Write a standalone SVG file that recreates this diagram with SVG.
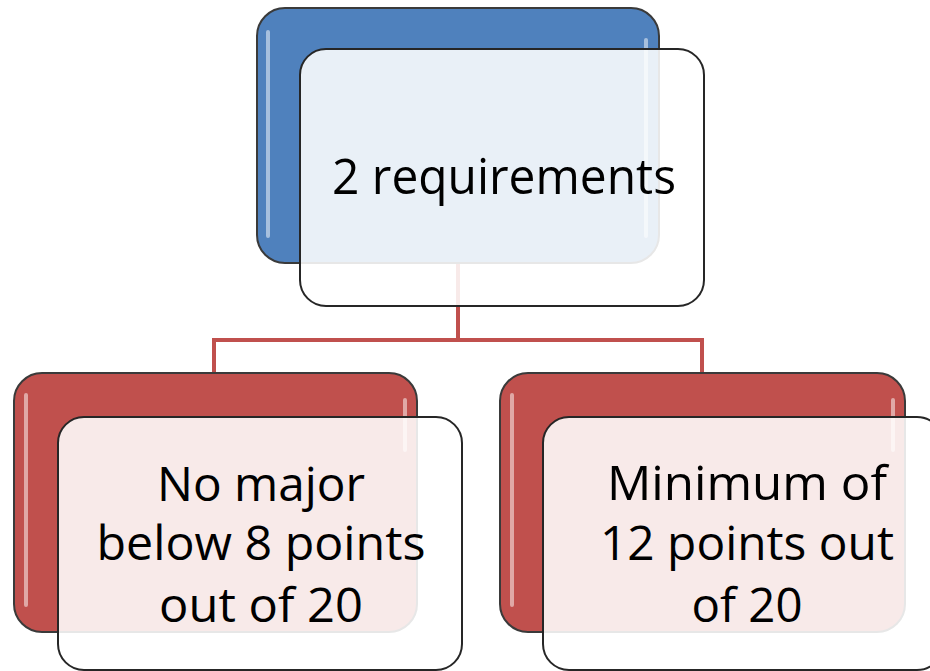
<svg xmlns="http://www.w3.org/2000/svg" width="930" height="671" viewBox="0 0 930 671">
<defs>
<style>
.back{stroke:#3a3a3a;stroke-width:2}
.blue{fill:#4F81BD}
.red{fill:#C0504D}
.front{fill:#ffffff;fill-opacity:0.88;stroke:#262626;stroke-width:2}
.gloss{stroke:#ffffff;stroke-opacity:0.5;stroke-width:4;stroke-linecap:round;fill:none}
.conn{stroke:#C0504D;stroke-width:4;fill:none}
.t{font-family:"Open Sans","Noto Sans","Liberation Sans",sans-serif;font-size:47px;fill:#000;text-anchor:middle}
.tt{font-family:"Open Sans","Noto Sans","Liberation Sans",sans-serif;font-size:50px;fill:#000;text-anchor:middle}
</style>
</defs>
<rect width="930" height="671" fill="#ffffff"/>
<g id="connectors">
<path class="conn" d="M458 263 V340 M214 340 H702 M214 338 V376 M702 338 V376"/>
</g>
<g id="node-top">
<rect class="back blue" x="257" y="8" width="402" height="255" rx="28"/>
<path class="gloss" d="M268 32 V236 M646 40 V236"/>
<rect class="front" x="300" y="49" width="404" height="257" rx="26"/>
<text class="tt" x="504" y="194" textLength="344" lengthAdjust="spacingAndGlyphs">2 requirements</text>
</g>
<g id="node-left">
<rect class="back red" x="14" y="373" width="403" height="259" rx="28"/>
<path class="gloss" d="M26 395 V605 M405 400 V450"/>
<rect class="front" x="58" y="417" width="404" height="253" rx="26"/>
<text class="t" x="261" y="501" textLength="208" lengthAdjust="spacingAndGlyphs">No major</text>
<text class="t" x="261" y="560" textLength="329" lengthAdjust="spacingAndGlyphs">below 8 points</text>
<text class="t" x="261" y="622" textLength="204" lengthAdjust="spacingAndGlyphs">out of 20</text>
</g>
<g id="node-right">
<rect class="back red" x="500" y="373" width="405" height="259" rx="28"/>
<path class="gloss" d="M512 395 V605 M893 400 V450"/>
<rect class="front" x="543" y="417" width="400" height="253" rx="26"/>
<text class="t" x="747" y="500" textLength="280" lengthAdjust="spacingAndGlyphs">Minimum of</text>
<text class="t" x="747" y="560" textLength="294" lengthAdjust="spacingAndGlyphs">12 points out</text>
<text class="t" x="747" y="622" textLength="111" lengthAdjust="spacingAndGlyphs">of 20</text>
</g>
</svg>
